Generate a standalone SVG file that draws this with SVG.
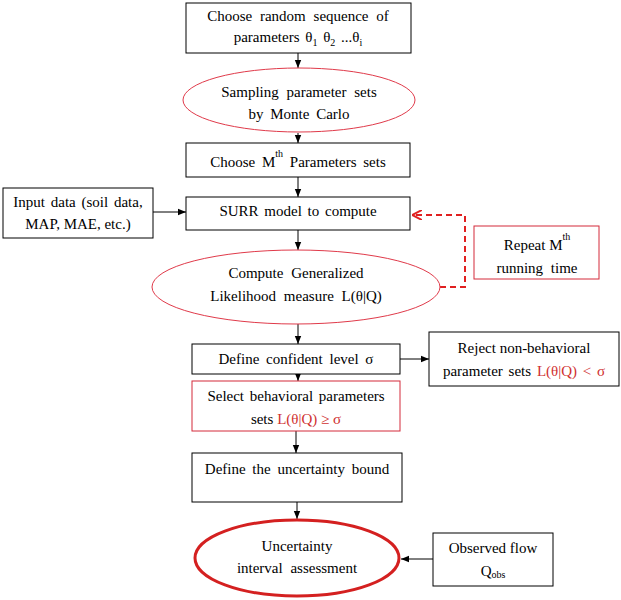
<svg xmlns="http://www.w3.org/2000/svg" width="621" height="600" viewBox="0 0 621 600">
<defs>
<marker id="ah" viewBox="0 0 10 10" refX="10" refY="5" markerWidth="8" markerHeight="8" markerUnits="userSpaceOnUse" orient="auto"><path d="M0,1 L10,5 L0,9 z" fill="#000"/></marker>
<marker id="ahr" viewBox="0 0 10 10" refX="9" refY="5" markerWidth="10" markerHeight="10" markerUnits="userSpaceOnUse" orient="auto"><path d="M0,0 L10,5 L0,10" fill="none" stroke="#e02020" stroke-width="2"/></marker>
</defs>
<style>
text{font-family:'Liberation Serif','Times New Roman',serif;font-size:15px;fill:#000;text-anchor:middle}
.box{fill:#fff;stroke:#000;stroke-width:1}
.rbox{fill:#fff;stroke:#d42a3a;stroke-width:1}
.ell{fill:#fff;stroke:#e03a4a;stroke-width:1}
.ell3{fill:#fff;stroke:#d42020;stroke-width:3}
.con{stroke:#000;stroke-width:1;fill:none;marker-end:url(#ah)}
.red{fill:#d03030}
.sup{font-size:10px}
</style>
<rect width="621" height="600" fill="#fff"/>
<g id="connectors">
<line class="con" x1="298" y1="53" x2="298" y2="68"/>
<line class="con" x1="298" y1="133" x2="298" y2="143"/>
<line class="con" x1="298" y1="177" x2="298" y2="197"/>
<line class="con" x1="153" y1="212" x2="186" y2="212"/>
<line class="con" x1="298" y1="230" x2="298" y2="250"/>
<path d="M440,287 H465 V215 H413" fill="none" stroke="#e02020" stroke-width="2" stroke-dasharray="6,4" marker-end="url(#ahr)"/>
<line class="con" x1="298" y1="324" x2="298" y2="344"/>
<line class="con" x1="400" y1="359" x2="429" y2="359"/>
<line class="con" x1="298" y1="374" x2="298" y2="381"/>
<line class="con" x1="296" y1="431" x2="296" y2="453"/>
<line class="con" x1="297" y1="502" x2="297" y2="519"/>
<line class="con" x1="433" y1="559" x2="401" y2="559"/>
</g>
<g id="n1">
<rect class="box" x="186" y="3" width="225" height="50"/>
<text x="298" y="21" word-spacing="4">Choose random sequence of</text>
<text x="298" y="42" word-spacing="2">parameters θ<tspan class="sup" dy="4">1</tspan><tspan dy="-4"> θ</tspan><tspan class="sup" dy="4">2</tspan><tspan dy="-4"> ...θ</tspan><tspan class="sup" dy="4">i</tspan></text>
</g>
<g id="n2">
<ellipse class="ell" cx="299" cy="100" rx="116" ry="32"/>
<text x="299" y="97" word-spacing="4">Sampling parameter sets</text>
<text x="299" y="119" word-spacing="3">by Monte Carlo</text>
</g>
<g id="n3">
<rect class="box" x="186" y="143" width="224" height="34"/>
<text x="298" y="167" word-spacing="3">Choose M<tspan class="sup" dy="-10">th</tspan><tspan dy="10"> Parameters sets</tspan></text>
</g>
<g id="n4">
<rect class="box" x="186" y="197" width="224" height="33"/>
<text x="298" y="216" word-spacing="2">SURR model to compute</text>
</g>
<g id="n5">
<rect class="box" x="3" y="188" width="150" height="50"/>
<text x="78" y="207" word-spacing="2">Input data (soil data,</text>
<text x="78" y="229">MAP, MAE, etc.)</text>
</g>
<g id="n6">
<ellipse class="ell" cx="296" cy="287" rx="144" ry="37"/>
<text x="296" y="278" word-spacing="4">Compute Generalized</text>
<text x="296" y="301" word-spacing="4">Likelihood measure L(θ|Q)</text>
</g>
<g id="n7">
<rect class="rbox" x="474" y="226" width="125" height="53"/>
<text x="537" y="250">Repeat M<tspan class="sup" dy="-10">th</tspan></text>
<text x="537" y="273" word-spacing="4">running time</text>
</g>
<g id="n8">
<rect class="box" x="192" y="344" width="208" height="30"/>
<text x="296" y="364" word-spacing="3">Define confident level σ</text>
</g>
<g id="n9">
<rect class="box" x="429" y="332" width="190" height="54"/>
<text x="524" y="353">Reject non-behavioral</text>
<text x="524" y="376" word-spacing="2">parameter sets <tspan class="red">L(θ|Q) &lt; σ</tspan></text>
</g>
<g id="n10">
<rect class="rbox" x="192" y="381" width="208" height="50"/>
<text x="296" y="401" word-spacing="2">Select behavioral parameters</text>
<text x="296" y="424">sets <tspan class="red">L(θ|Q) ≥ σ</tspan></text>
</g>
<g id="n11">
<rect class="box" x="192" y="453" width="210" height="49"/>
<text x="297" y="474" word-spacing="3">Define the uncertainty bound</text>
</g>
<g id="n12">
<ellipse class="ell3" cx="297" cy="558" rx="102" ry="38"/>
<text x="297" y="551">Uncertainty</text>
<text x="297" y="573" word-spacing="4">interval assessment</text>
</g>
<g id="n13">
<rect class="box" x="433" y="533" width="120" height="53"/>
<text x="493" y="553">Observed flow</text>
<text x="493" y="576">Q<tspan class="sup" dy="2">obs</tspan></text>
</g>
</svg>
